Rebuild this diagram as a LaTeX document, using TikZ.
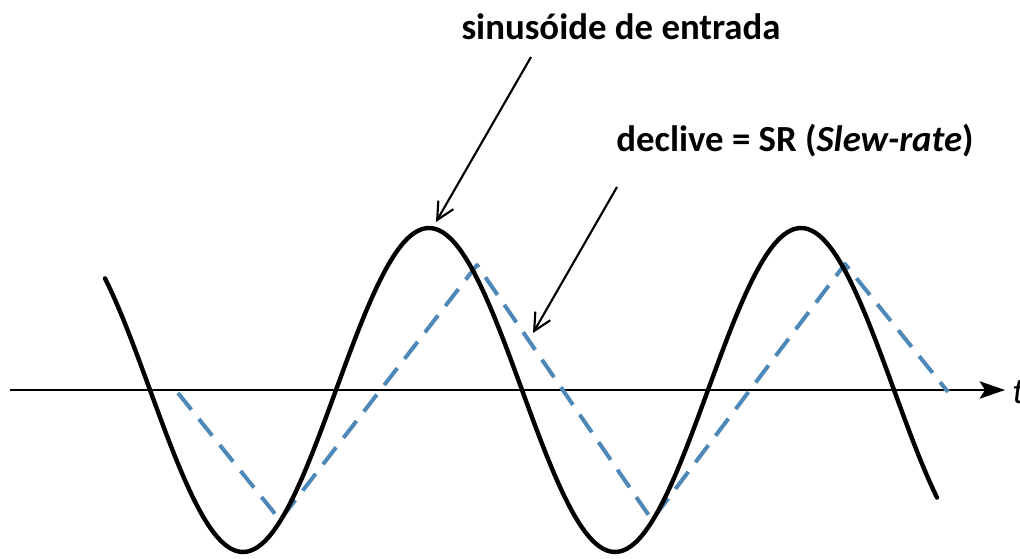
\documentclass[tikz,border=0pt]{standalone}
\usepackage{fontspec}
\setmainfont{Carlito}
\usetikzlibrary{arrows.meta}
\definecolor{slewblue}{RGB}{78,136,184}
\tikzset{
  px/.style={x=0.75pt,y=-0.75pt},
  lbl/.style={font=\fontsize{27.6}{32}\selectfont\bfseries, inner sep=0pt},
  sinecurve/.style={line width=3.3pt, line cap=round, line join=round},
  slewline/.style={slewblue, line width=3pt, dash pattern=on 16pt off 9pt, line join=round},
  axisline/.style={line width=1.5pt, -{Stealth[length=19pt,width=13pt,inset=4pt]}},
  pointer/.style={line width=1.6pt, -{Straight Barb[length=13pt,width=13pt,line width=1.6pt]}}
}
\begin{document}
\begin{tikzpicture}[px]
\useasboundingbox (0,0) rectangle (1020,559);
% axis
\coordinate (a0) at (10,390);
\coordinate (a1) at (1005,390);
\draw[axisline] (a0) -- (a1);
\node[font=\fontsize{27}{32}\selectfont\itshape, anchor=west, inner sep=0pt] (t) at (1012,392) {t};
% slew-limited output
\coordinate (s0) at (178,393);
\coordinate (s1) at (280,520);
\coordinate (s2) at (477,265);
\coordinate (s3) at (652,520);
\coordinate (s4) at (845,264);
\coordinate (s5) at (948,392);
\draw[slewline] (s0) -- (s1) -- (s2) -- (s3) -- (s4) -- (s5);
% input sine
\draw[sinecurve] plot[domain=105:937, samples=240, smooth] (\x,{390+162*sin((\x-150)/372*360)});
% labels
\node[lbl] (l1) at (621,27) {sinusóide de entrada};
\node[lbl] (l2) at (795,141) {declive = SR (\textit{Slew-rate})};
\coordinate (p1a) at (531,57);
\coordinate (p1b) at (436,222);
\coordinate (p2a) at (617,187);
\coordinate (p2b) at (533,333);
\draw[pointer] (p1a) -- (p1b);
\draw[pointer] (p2a) -- (p2b);
\end{tikzpicture}
\end{document}
